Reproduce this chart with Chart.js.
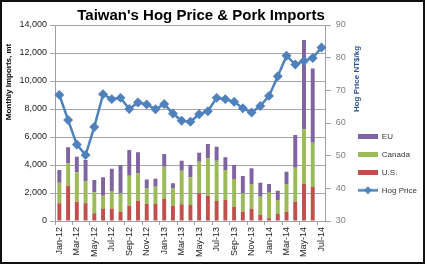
<!DOCTYPE html>
<html lang="en">
<head>
<meta charset="UTF-8">
<title>Taiwan's Hog Price &amp; Pork Imports</title>
<script src="https://cdn.jsdelivr.net/npm/chart.js@4.4.1/dist/chart.umd.min.js"></script>
<style>
    html, body {
        margin: 0;
        padding: 0;
        background: #fff;
    }
    #frame {
        width: 425px;
        height: 264px;
        box-sizing: border-box;
        border: 2px solid #111;
    }
    canvas {
        display: block;
    }
</style>
</head>
<body>

<div id="frame"><canvas id="hogChart" width="421" height="260"></canvas></div>

<script>
    const months = ['Jan-12', 'Feb-12', 'Mar-12', 'Apr-12', 'May-12', 'Jun-12', 'Jul-12', 'Aug-12', 'Sep-12', 'Oct-12', 'Nov-12', 'Dec-12',
                    'Jan-13', 'Feb-13', 'Mar-13', 'Apr-13', 'May-13', 'Jun-13', 'Jul-13', 'Aug-13', 'Sep-13', 'Oct-13', 'Nov-13', 'Dec-13',
                    'Jan-14', 'Feb-14', 'Mar-14', 'Apr-14', 'May-14', 'Jun-14', 'Jul-14'];

    // monthly pork imports, mt (no import figures yet for Jul-14)
    const usImports     = [1260, 2520, 1380, 1260, 550, 860, 900, 660, 1090, 1450, 1210, 1210, 1570, 1090, 1190, 1140, 1980, 1810, 1430, 1500, 1020, 660, 860, 430, 190, 500, 660, 1380, 2640, 2450, null];
    const canadaImports = [1470, 1600, 2100, 1570, 1500, 950, 1240, 1320, 2140, 1960, 1120, 1240, 2310, 1240, 2400, 1980, 2260, 2670, 2880, 2140, 1980, 1320, 1790, 1310, 1830, 1000, 1980, 2430, 3910, 3140, null];
    const euImports     = [910, 1140, 1110, 1520, 880, 1310, 1600, 2020, 1840, 1500, 640, 570, 910, 360, 710, 880, 640, 1020, 1000, 910, 1000, 1240, 1120, 1000, 620, 660, 880, 2340, 6380, 5310, null];

    // hog price, NT$/kg
    const hogPrice = [68.6, 60.9, 53.4, 50.2, 58.8, 68.8, 67.3, 67.7, 64.3, 66.3, 65.7, 64.2, 65.8, 62.9, 60.7, 60.4, 62.7, 63.6, 67.7, 67.3, 66.5, 64.5, 63.2, 65.2, 68.3, 74.3, 80.6, 77.9, 79.0, 79.9, 83.1];

    const importTicks = { min: 0, max: 14000, step: 2000 };
    const priceTicks = { min: 30, max: 90, step: 10 };

    const chartTitle = "Taiwan's Hog Price & Pork Imports";
    const leftTitle = 'Monthly Imports, mt';
    const rightTitle = 'Hog Price NT$/kg';

    const colors = { us: '#C0504D', canada: '#9BBB59', eu: '#8064A2', price: '#4F81BD' };

    const fontFamily = '"Liberation Sans", Arial, sans-serif';
    Chart.defaults.font.family = fontFamily;

    // small canvases used as legend symbols
    function barIcon(color) {
        const c = document.createElement('canvas');
        c.width = 20;
        c.height = 5;
        const g = c.getContext('2d');
        g.fillStyle = color;
        g.fillRect(0, 0, 20, 5);
        return c;
    }

    function lineIcon(color) {
        const c = document.createElement('canvas');
        c.width = 20;
        c.height = 9;
        const g = c.getContext('2d');
        g.strokeStyle = color;
        g.lineWidth = 2.5;
        g.beginPath();
        g.moveTo(0, 4.5);
        g.lineTo(20, 4.5);
        g.stroke();
        g.fillStyle = color;
        g.beginPath();
        g.moveTo(10, 0.5);
        g.lineTo(14, 4.5);
        g.lineTo(10, 8.5);
        g.lineTo(6, 4.5);
        g.closePath();
        g.fill();
        return c;
    }

    const legendIcons = [barIcon(colors.us), barIcon(colors.canada), barIcon(colors.eu), lineIcon(colors.price)];
    const legendRank = [2, 1, 0, 3]; // EU, Canada, U.S., Hog Price

    function drawRotated(ctx, text, x, y, color) {
        ctx.save();
        ctx.translate(x, y);
        ctx.rotate(-Math.PI / 2);
        ctx.fillStyle = color;
        ctx.fillText(text, 0, 0);
        ctx.restore();
    }

    // chart title and both axis titles, placed like the Excel original
    const titlesPlugin = {
        id: 'titles',
        afterDraw(chart) {
            const ctx = chart.ctx;
            ctx.save();
            ctx.textAlign = 'center';
            ctx.textBaseline = 'alphabetic';
            ctx.fillStyle = '#000';
            ctx.font = 'bold 15px ' + fontFamily;
            ctx.fillText(chartTitle, 199, 18);

            ctx.font = 'bold 8px ' + fontFamily;
            ctx.textBaseline = 'middle';
            drawRotated(ctx, leftTitle, 7, 80, '#000');
            drawRotated(ctx, rightTitle, 355, 77, '#2F5597');
            ctx.restore();
        }
    };

    const config = {
        type: 'bar',
        data: {
            labels: months,
            datasets: [
                { label: 'U.S.', data: usImports, backgroundColor: colors.us, yAxisID: 'y', order: 1 },
                { label: 'Canada', data: canadaImports, backgroundColor: colors.canada, yAxisID: 'y', order: 1 },
                { label: 'EU', data: euImports, backgroundColor: colors.eu, yAxisID: 'y', order: 1 },
                {
                    type: 'line',
                    label: 'Hog Price',
                    data: hogPrice,
                    yAxisID: 'y1',
                    order: 0,
                    borderColor: colors.price,
                    backgroundColor: colors.price,
                    borderWidth: 2.5,
                    pointStyle: 'rectRot',
                    pointRadius: 3.2,
                    tension: 0
                }
            ]
        },
        options: {
            responsive: false,
            animation: false,
            layout: { padding: { top: 23, left: 0, right: 6, bottom: 0 } },
            datasets: {
                bar: { barPercentage: 0.9, categoryPercentage: 0.5 }
            },
            plugins: {
                title: { display: false },
                tooltip: { enabled: false },
                legend: {
                    position: 'right',
                    title: { display: true, text: ' ', font: { size: 8 }, padding: { top: 30, bottom: 0 } },
                    labels: {
                        usePointStyle: true,
                        pointStyleWidth: 20,
                        color: '#333',
                        padding: 10,
                        font: { size: 8 },
                        generateLabels: function(chart) {
                            const items = Chart.defaults.plugins.legend.labels.generateLabels(chart);
                            items.forEach(item => { item.pointStyle = legendIcons[item.datasetIndex]; });
                            return items;
                        },
                        sort: (a, b) => legendRank[a.datasetIndex] - legendRank[b.datasetIndex]
                    }
                }
            },
            scales: {
                x: {
                    stacked: true,
                    grid: {
                        drawOnChartArea: false,
                        tickLength: 4,
                        tickColor: ctx => ctx.index % 2 === 0 ? '#A0A0A0' : 'rgba(0,0,0,0)'
                    },
                    border: { color: '#A0A0A0' },
                    ticks: {
                        autoSkip: false,
                        maxRotation: 90,
                        minRotation: 90,
                        padding: 2,
                        color: '#222',
                        font: { size: 9 },
                        callback: function(value, index) {
                            return index % 2 === 0 ? this.getLabelForValue(value) : '';
                        }
                    },
                    afterFit: scale => { scale.height = 41; }
                },
                y: {
                    stacked: true,
                    min: importTicks.min,
                    max: importTicks.max,
                    ticks: {
                        stepSize: importTicks.step,
                        padding: 3,
                        color: '#222',
                        font: { size: 9 },
                        callback: value => value.toLocaleString('en-US')
                    },
                    grid: { color: '#A6A6A6', tickLength: 5 },
                    border: { color: '#A0A0A0' },
                    afterFit: scale => { scale.width = 53; }
                },
                y1: {
                    position: 'right',
                    min: priceTicks.min,
                    max: priceTicks.max,
                    ticks: {
                        stepSize: priceTicks.step,
                        padding: 5,
                        color: '#808080',
                        font: { size: 9 }
                    },
                    grid: { drawOnChartArea: false, tickLength: 5, color: '#A0A0A0' },
                    border: { color: '#A0A0A0' },
                    afterFit: scale => { scale.width = 22; }
                }
            }
        },
        plugins: [titlesPlugin]
    };

    const chart = new Chart(document.getElementById('hogChart').getContext('2d'), config);
</script>

</body>
</html>
